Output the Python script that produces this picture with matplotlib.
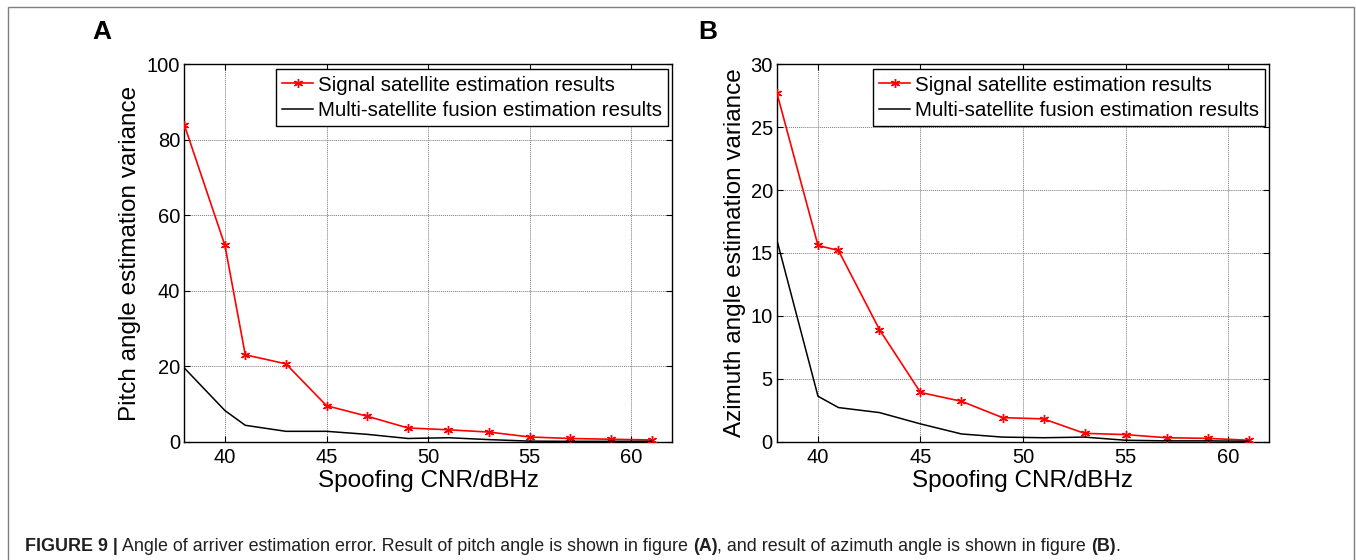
import matplotlib
matplotlib.use("Agg")
import matplotlib.pyplot as plt
from matplotlib.patches import Rectangle

plt.rcParams['font.family'] = ['Liberation Sans', 'DejaVu Sans']

# ---------------- data ----------------
cnr = [38, 40, 41, 43, 45, 47, 49, 51, 53, 55, 57, 59, 61]

pitch_single = [84, 52, 23, 20.6, 9.5, 6.7, 3.6, 3.1, 2.5, 1.2, 0.8, 0.6, 0.4]
pitch_fusion = [19.5, 8.2, 4.3, 2.7, 2.7, 1.9, 0.8, 1.0, 0.5, 0.1, 0.05, 0.05, 0.05]

azim_single = [27.7, 15.6, 15.2, 8.9, 3.9, 3.2, 1.9, 1.8, 0.65, 0.55, 0.3, 0.25, 0.1]
azim_fusion = [16.0, 3.6, 2.7, 2.3, 1.4, 0.6, 0.35, 0.3, 0.35, 0.1, 0.05, 0.05, 0.02]

x_ticks = [40, 45, 50, 55, 60]
pitch_yticks = [0, 20, 40, 60, 80, 100]
azim_yticks = [0, 5, 10, 15, 20, 25, 30]

label_single = "Signal satellite estimation results"
label_fusion = "Multi-satellite fusion estimation results"
xlabel = "Spoofing CNR/dBHz"
pitch_ylabel = "Pitch angle estimation variance"
azim_ylabel = "Azimuth angle estimation variance"

caption_parts = [
    ("FIGURE 9 |", True),
    (" Angle of arriver estimation error. Result of pitch angle is shown in figure ", False),
    ("(A)", True),
    (", and result of azimuth angle is shown in figure ", False),
    ("(B)", True),
    (".", False),
]

# ---------------- figure ----------------
W, H = 1356, 560
fig = plt.figure(figsize=(W / 100, H / 100), dpi=100)

# outer gray frame
fig.add_artist(Rectangle((8.3 / W, -0.01), (1353.7 - 8.3) / W, (H - 6.7) / H + 0.01,
                         transform=fig.transFigure, fill=False, edgecolor='#7f7f7f',
                         linewidth=1.0))

def make_panel(left_px, right_px, ys_single, ys_fusion, yticks, ylab, ylab_px, letter, letter_x):
    top_px, bot_px = 64.5, 441.5
    ax = fig.add_axes([left_px / W, (H - bot_px) / H, (right_px - left_px) / W, (bot_px - top_px) / H])
    ax.plot(cnr, ys_single, color='red', lw=1.2, marker=(6, 2, 0), ms=6.5, mew=1.0,
            label=label_single, zorder=3)
    ax.plot(cnr, ys_fusion, color='black', lw=1.1, label=label_fusion, zorder=3)
    ax.set_xlim(38, 62)
    ax.set_ylim(yticks[0], yticks[-1])
    ax.set_xticks(x_ticks)
    ax.set_yticks(yticks)
    ax.grid(True, color='#7a7a7a', linestyle=(0, (1, 1)), lw=0.7)
    ax.set_axisbelow(True)
    ax.tick_params(direction='in', top=True, right=True, length=4, width=0.8,
                   labelsize=14.5, colors='black')
    ax.tick_params(axis='x', pad=5)
    ax.tick_params(axis='y', pad=3)
    for s in ax.spines.values():
        s.set_linewidth(1.0)
        s.set_color('black')
    w = right_px - left_px
    h = bot_px - top_px
    ax.set_xlabel(xlabel, fontsize=17.5)
    ax.xaxis.set_label_coords(0.5, -29.0 / h)
    ax.set_ylabel(ylab, fontsize=17.5)
    ax.yaxis.set_label_coords(-(left_px - ylab_px) / w, 0.5)
    leg = ax.legend(loc='upper right', bbox_to_anchor=(1 - 4 / w, 1 - 5 / h),
                    borderaxespad=0, fancybox=False, framealpha=1, edgecolor='black',
                    fontsize=14.8, handlelength=1.5, handletextpad=0.22,
                    borderpad=0.3, labelspacing=0.3)
    leg.get_frame().set_linewidth(1.0)
    fig.text(letter_x / W, (H - 31.7) / H, letter, fontsize=19, fontweight='bold',
             ha='center', va='center')
    return ax

axA = make_panel(184.3, 672, pitch_single, pitch_fusion, pitch_yticks, pitch_ylabel, 141, "A", 102)
axB = make_panel(777, 1269, azim_single, azim_fusion, azim_yticks, azim_ylabel, 746, "B", 708)

# caption with mixed bold segments
fig.canvas.draw()
renderer = fig.canvas.get_renderer()
x = 25.0
y_base = (H - 551.0) / H
for txt, bold in caption_parts:
    t = fig.text(x / W, y_base, txt, fontsize=12.85, fontweight='bold' if bold else 'normal',
                 ha='left', va='baseline', color='#231f20')
    bb = t.get_window_extent(renderer=renderer)
    x += bb.width

fig.savefig("out.png", dpi=100)
